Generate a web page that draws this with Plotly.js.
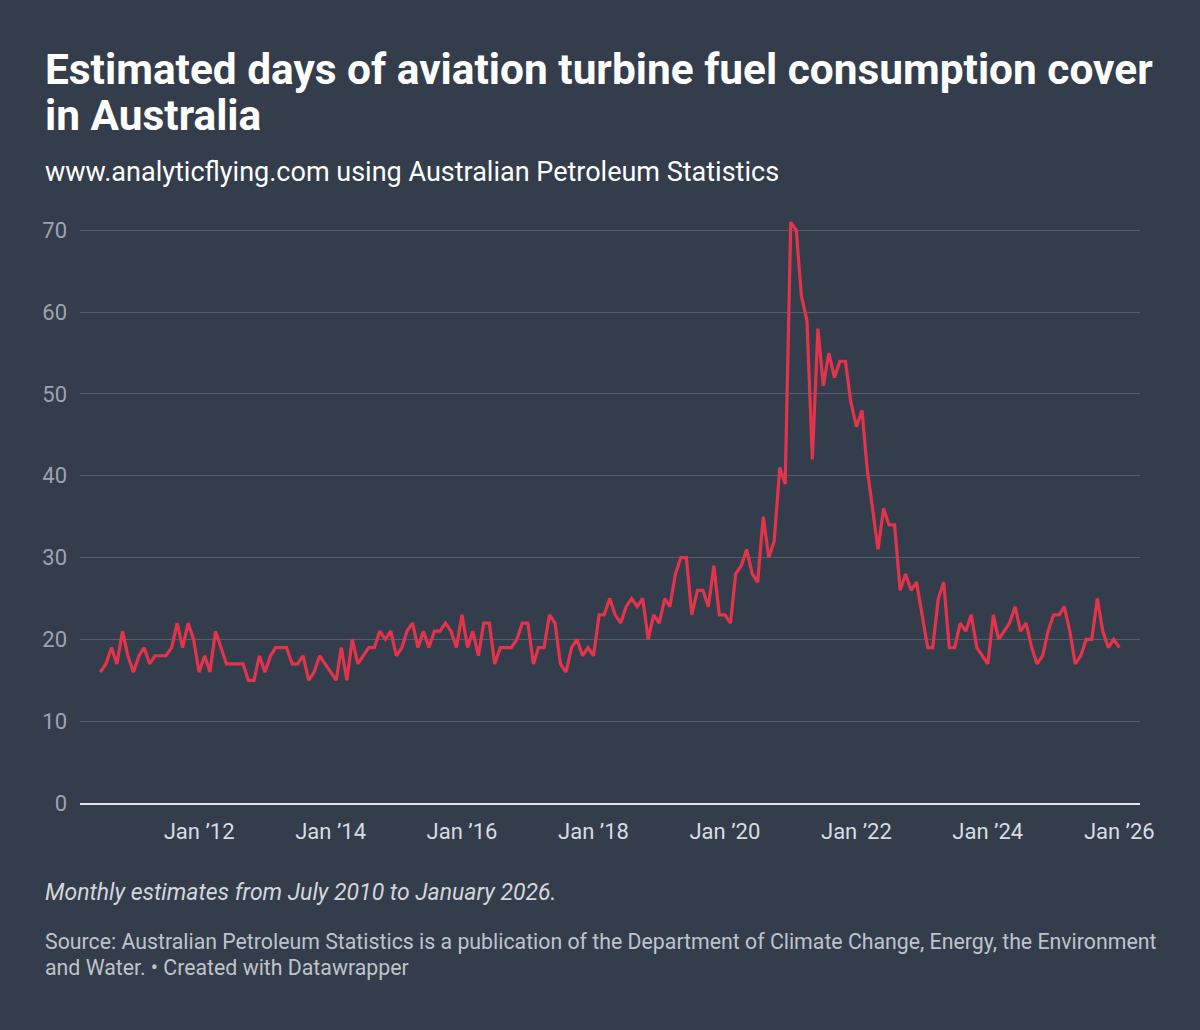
<!DOCTYPE html>
<html>
<head>
<meta charset="utf-8">
<script src="https://cdn.plot.ly/plotly-3.0.1.min.js"></script>
<style>
html,body{margin:0;padding:0;background:#333d4b;}
#chart{width:1200px;height:1030px;}
</style>
</head>
<body>
<div id="chart"></div>
<script>
// Monthly estimates, July 2010 .. January 2026 (days of cover)
const startYear = 2010;
const startMonth = 7;
const daysCover = [
  16,17,19,17,21,18,16,18,19,17,18,18,18,19,22,19,22,20,16,18,
  16,21,19,17,17,17,17,15,15,18,16,18,19,19,19,17,17,18,15,16,
  18,17,16,15,19,15,20,17,18,19,19,21,20,21,18,19,21,22,19,21,
  19,21,21,22,21,19,23,19,21,18,22,22,17,19,19,19,20,22,22,17,
  19,19,23,22,17,16,19,20,18,19,18,23,23,25,23,22,24,25,24,25,
  20,23,22,25,24,28,30,30,23,26,26,24,29,23,23,22,28,29,31,28,
  27,35,30,32,41,39,71,70,62,59,42,58,51,55,52,54,54,49,46,48,
  41,36,31,36,34,34,26,28,26,27,23,19,19,25,27,19,19,22,21,23,
  19,18,17,23,20,21,22,24,21,22,19,17,18,21,23,23,24,21,17,18,
  20,20,25,21,19,20,19
];
const tickDates = ['2012-01-01','2014-01-01','2016-01-01','2018-01-01','2020-01-01','2022-01-01','2024-01-01','2026-01-01'];
const tickLabels = ['Jan ’12','Jan ’14','Jan ’16','Jan ’18','Jan ’20','Jan ’22','Jan ’24','Jan ’26'];
const yTicks = [0,10,20,30,40,50,60,70];

const dates = daysCover.map((v, i) => {
  const m0 = startMonth - 1 + i;
  const y = startYear + Math.floor(m0 / 12);
  const m = (m0 % 12) + 1;
  return y + '-' + String(m).padStart(2, '0') + '-01';
});

const W = 1200, H = 1030;
const L = 80, R = 60, T = 214, B = 227;
const plotW = W - L - R, plotH = H - T - B;
const px = x => (x - L) / plotW;
const py = y => (H - B - y) / plotH;

const font = 'Roboto, "Noto Sans", Arial, sans-serif';
const textX = 43;

const trace = {
  x: dates,
  y: daysCover,
  type: 'scatter',
  mode: 'lines',
  line: {color: '#e3344c', width: 3.2, shape: 'linear'},
  hoverinfo: 'x+y'
};

const layout = {
  width: W, height: H,
  paper_bgcolor: '#333d4b',
  plot_bgcolor: '#333d4b',
  margin: {l: L, r: R, t: T, b: B, pad: 0},
  showlegend: false,
  font: {family: font, color: '#ffffff'},
  xaxis: {
    type: 'date',
    range: ['2010-03-10', '2026-04-26'],
    tickvals: tickDates,
    ticktext: tickLabels,
    showgrid: false,
    zeroline: false,
    showline: true,
    linecolor: '#e6e6e6',
    linewidth: 2,
    ticks: '',
    ticklabelstandoff: 8,
    tickfont: {family: font, size: 22, color: '#d9dce0'}
  },
  yaxis: {
    range: [0, 72],
    tickvals: yTicks,
    ticktext: yTicks.map(String),
    showgrid: true,
    gridcolor: '#56606d',
    gridwidth: 1,
    zeroline: false,
    showline: false,
    ticks: '',
    ticklabelstandoff: 12,
    tickfont: {family: font, size: 22, color: '#9ea4ad'}
  },
  annotations: [
    {text: '<b>Estimated days of aviation turbine fuel consumption cover</b>', xref: 'paper', yref: 'paper',
     x: px(textX), y: py(70), xanchor: 'left', yanchor: 'middle', showarrow: false,
     font: {family: font, size: 42.4, color: '#ffffff'}},
    {text: '<b>in Australia</b>', xref: 'paper', yref: 'paper',
     x: px(textX), y: py(115), xanchor: 'left', yanchor: 'middle', showarrow: false,
     font: {family: font, size: 42.4, color: '#ffffff'}},
    {text: 'www.analyticflying.com using Australian Petroleum Statistics', xref: 'paper', yref: 'paper',
     x: px(textX), y: py(172), xanchor: 'left', yanchor: 'middle', showarrow: false,
     font: {family: font, size: 27, color: '#ffffff'}},
    {text: '<i>Monthly estimates from July 2010 to January 2026.</i>', xref: 'paper', yref: 'paper',
     x: px(textX), y: py(892), xanchor: 'left', yanchor: 'middle', showarrow: false,
     font: {family: font, size: 23, color: '#d3d6db'}},
    {text: 'Source: Australian Petroleum Statistics is a publication of the Department of Climate Change, Energy, the Environment', xref: 'paper', yref: 'paper',
     x: px(textX), y: py(941), xanchor: 'left', yanchor: 'middle', showarrow: false,
     font: {family: font, size: 21.3, color: '#bfc4ca'}},
    {text: 'and Water. • Created with Datawrapper', xref: 'paper', yref: 'paper',
     x: px(textX), y: py(967), xanchor: 'left', yanchor: 'middle', showarrow: false,
     font: {family: font, size: 21.3, color: '#bfc4ca'}}
  ]
};

Plotly.newPlot('chart', [trace], layout, {displayModeBar: false, staticPlot: true});
</script>
</body>
</html>
